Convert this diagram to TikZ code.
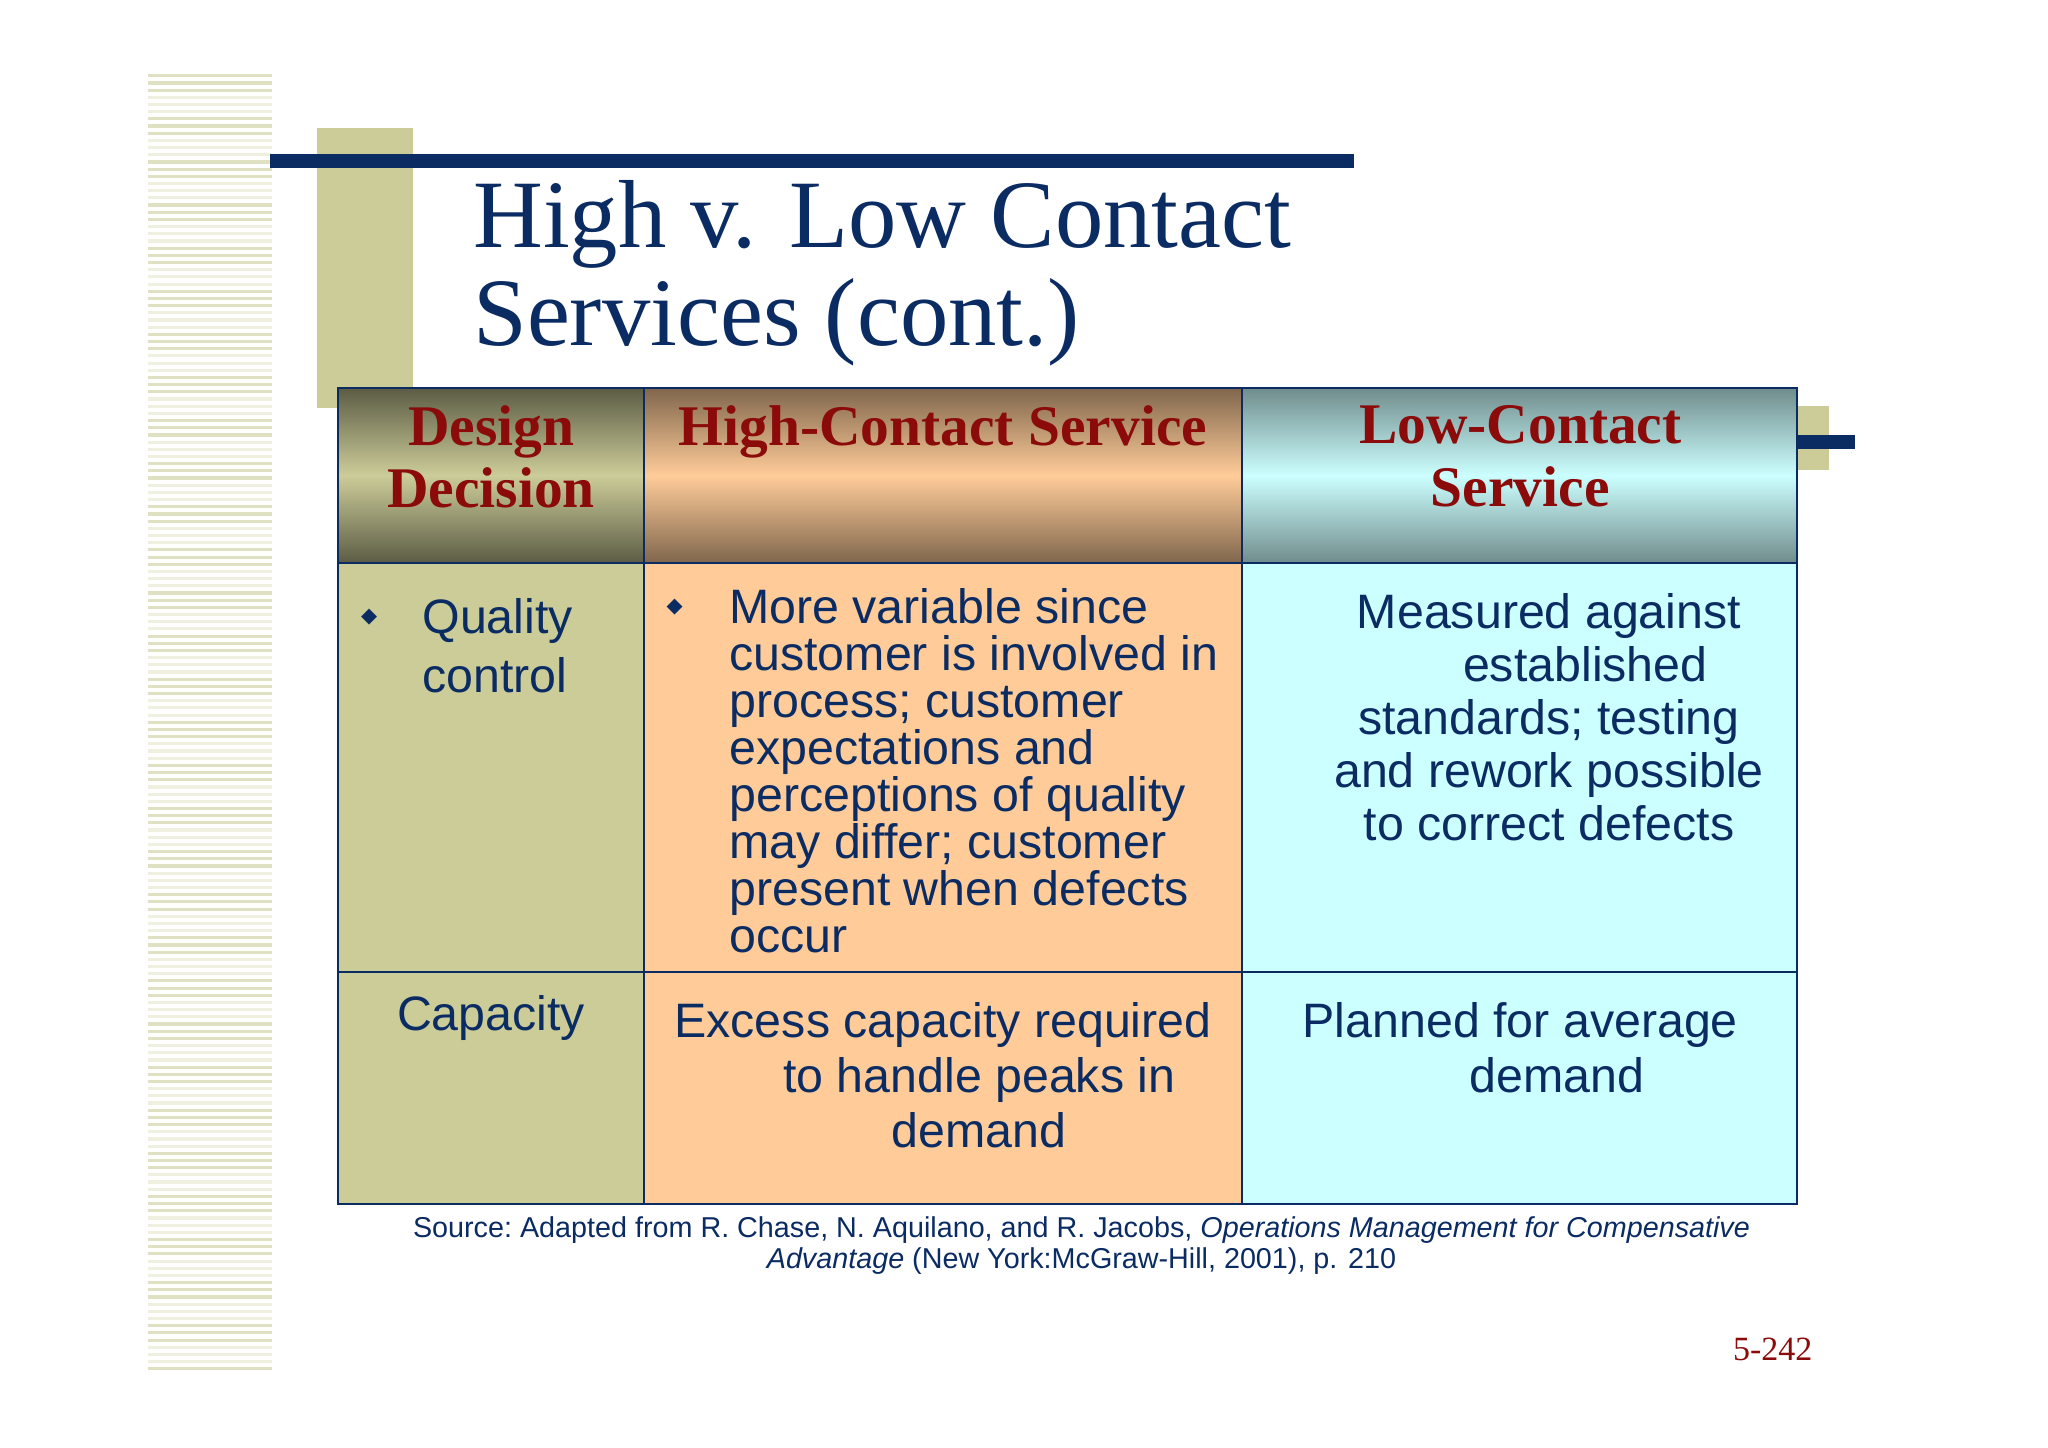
\documentclass[tikz,border=0pt]{standalone}
\usepackage{fontspec}
\setmainfont{Liberation Sans}
\newfontfamily\serifx{Liberation Serif}
\newfontfamily\djv{DejaVu Sans}
\definecolor{navy}{HTML}{0B2C63}
\definecolor{tan}{HTML}{CCCC99}
\definecolor{peach}{HTML}{FFCC99}
\definecolor{aqua}{HTML}{CCFFFF}
\definecolor{dred}{HTML}{8B0A0A}
\tikzset{
 body/.style={text=navy,font=\fontsize{18.5}{18}\selectfont,inner sep=0pt},
 head/.style={text=dred,font=\serifx\bfseries\fontsize{22}{24}\selectfont,align=center,inner sep=0pt}
}
\begin{document}
\begin{tikzpicture}[x=0.5pt,y=-0.5pt]
\useasboundingbox[fill=white] (0,0) rectangle (1568,1108);
% stripes
\foreach \i in {0,...,180}{
  \pgfmathsetmacro\yy{58+\i*5.5}
  \pgfmathsetmacro\c{mod(\i,6)<3 ? 60 : 30}
  \draw[tan!\c!white,line width=1.2pt] (113,\yy) -- (208,\yy);
}
% title decoration
\fill[tan] (243,98) rectangle (316,312);
\fill[navy] (207,118) rectangle (1037,129);
\node[anchor=north west,text=navy,font=\serifx\fontsize{37}{37.5}\selectfont,align=left,inner sep=0pt] (title) at (362,138) {High v. Low Contact\\Services (cont.)};
% right decoration
\fill[tan] (1376,311) rectangle (1400,360);
\fill[navy] (1376,333) rectangle (1420,344);
% header shading
\shade[top color=black!55!tan,bottom color=tan] (259,297) rectangle (493,364);
\shade[top color=tan,bottom color=black!55!tan] (259,364) rectangle (493,431);
\shade[top color=black!50!peach,bottom color=peach] (493,297) rectangle (951,364);
\shade[top color=peach,bottom color=black!50!peach] (493,364) rectangle (951,431);
\shade[top color=black!45!aqua,bottom color=aqua] (951,297) rectangle (1376,364);
\shade[top color=aqua,bottom color=black!45!aqua] (951,364) rectangle (1376,431);
% body fills
\fill[tan] (259,431) rectangle (493,922);
\fill[peach] (493,431) rectangle (951,922);
\fill[aqua] (951,431) rectangle (1376,922);
% grid
\draw[navy,line width=0.8pt] (259,297) rectangle (1376,922);
\draw[navy,line width=0.8pt] (493,297) -- (493,922) (951,297) -- (951,922) (259,431) -- (1376,431) (259,744) -- (1376,744);
% headers
\node[head,anchor=north] (h1) at (376,310) {Design\\Decision};
\node[head,anchor=north] (h2) at (722,310) {High-Contact Service};
\node[head,anchor=north] (h3) at (1164,310) {Low-Contact\\Service};
% row 1
\node[body,anchor=north west] (b1) at (276,466) {\djv\fontsize{8}{8}\selectfont ◆};
\node[body,anchor=north west,align=left,font=\fontsize{18.5}{22.5}\selectfont] (q) at (323,458) {Quality\\control};
\node[body,anchor=north west] (b2) at (510,458) {\djv\fontsize{8}{8}\selectfont ◆};
\node[body,anchor=north west,align=left] (hc) at (558,450) {More variable since\\customer is involved in\\process; customer\\expectations and\\perceptions of quality\\may differ; customer\\present when defects\\occur};
\node[body,anchor=north,align=center,font=\fontsize{18.5}{20.3}\selectfont] (lc) at (1186,454) {Measured against\\\hspace*{1.5em}established\\ standards; testing\\and rework possible\\ to correct defects};
% row 2
\node[body,anchor=north] (cap) at (376,762) {Capacity};
\node[body,anchor=north,align=center,font=\fontsize{18.5}{21}\selectfont] (ex) at (722,767) {Excess capacity required\\\hspace*{1.5em}to handle peaks in\\\hspace*{1.5em}demand};
\node[body,anchor=north,align=center,font=\fontsize{18.5}{21}\selectfont] (pl) at (1164,767) {Planned for average\\\hspace*{1.5em}demand};
% source
\node[text=navy,font=\fontsize{11}{12}\selectfont,align=center,anchor=north,inner sep=0pt] (src) at (828,931) {Source:~Adapted from R. Chase, N. Aquilano, and R. Jacobs, \textit{Operations Management for Compensative}\\\textit{Advantage} (New York:McGraw-Hill, 2001), p. 210};
\node[text=dred,font=\serifx\fontsize{13}{14}\selectfont,anchor=east,inner sep=0pt] (pg) at (1388,1033) {5-242};
\end{tikzpicture}
\end{document}
